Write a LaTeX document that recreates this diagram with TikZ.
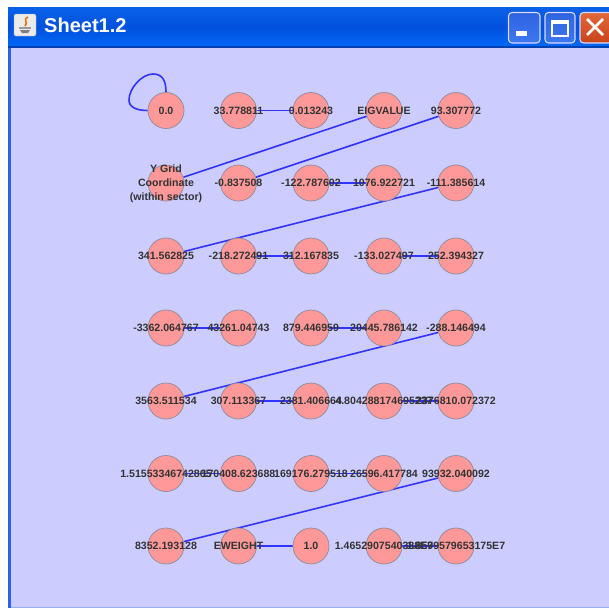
\documentclass[tikz,border=0pt]{standalone}
\usepackage{fontspec}
\setmainfont{Liberation Sans}
\usetikzlibrary{calc}
\definecolor{clientbg}{HTML}{CCCCFF}
\definecolor{vertexfill}{HTML}{FF9999}
\definecolor{vertexline}{HTML}{8F8A9A}
\definecolor{edgeblue}{HTML}{3333FF}
\definecolor{framemid}{HTML}{0050DC}
\definecolor{frametop}{HTML}{0A62EA}
\definecolor{framelow}{HTML}{0068F6}
\definecolor{frameedge}{HTML}{2A62E8}
\definecolor{btntop}{HTML}{2F62E2}
\definecolor{btnlow}{HTML}{3D78F0}
\definecolor{closetop}{HTML}{E2683A}
\definecolor{closelow}{HTML}{C8441A}
\pgfdeclarelayer{canvas}
\pgfdeclarelayer{edges}
\pgfsetlayers{canvas,edges,main}
\tikzset{
  vertex/.style={circle,draw=vertexline,line width=.7pt,fill=vertexfill,minimum size=36pt,inner sep=0pt},
  vtext/.style={font=\fontsize{10.6}{14}\bfseries\selectfont,text=black!80,align=center,inner sep=0pt},
  conn/.style={draw=edgeblue,line width=1.6pt},
  winbtn/.style={rounded corners=3.5pt,draw=white!85!blue,line width=1.1pt},
}
\begin{document}
\begin{tikzpicture}[x=1pt,y=-1pt]
\useasboundingbox (0,0) rectangle (609,608);
\begin{pgfonlayer}{canvas}
\fill[white] (0,0) rectangle (609,608);
\fill[frameedge] (8,40) rectangle (609,608);
\fill[clientbg] (11,48) rectangle (609,606.5);
\fill[white!50!frameedge] (11,606.5) rectangle (609,608);
\fill[top color=frametop,bottom color=framemid] (8,7) rectangle (609,27);
\fill[top color=framemid,bottom color=framelow] (8,27) rectangle (609,46);
\fill[black!20!framemid] (8,46) rectangle (609,48);
\end{pgfonlayer}
% title bar
\node[inner sep=0pt,anchor=west,text=white,font=\fontsize{20}{24}\bfseries\selectfont] (title) at (44,25.5) {Sheet1.2};
\fill[black!8,draw=black!30,rounded corners=2pt] (14,14) rectangle (36,36);
\draw[orange!90!black,line width=1.6pt] (28,17) .. controls (22,20) and (29,22) .. (25,26);
\fill[black!40] (19,27) rectangle (31,28.5);
\fill[black!50] (20,30) -- (30,30) -- (28,33) -- (22,33) -- cycle;
\shade[winbtn,top color=btntop,bottom color=btnlow] (508.5,12.5) rectangle (540,43);
\fill[white] (516,31) rectangle (527,35.5);
\shade[winbtn,top color=btntop,bottom color=btnlow] (545,12.5) rectangle (575,43);
\draw[white,line width=1.3pt] (552,21) rectangle (568,36);
\fill[white] (552,20) rectangle (568,23.5);
\shade[winbtn,top color=closetop,bottom color=closelow] (580,12.5) rectangle (612,43);
\draw[white,line width=2.8pt] (587,19) -- (603,35) (603,19) -- (587,35);
% vertices
\foreach \nm/\px/\py in {
 a1/166/110.5,a2/238.5/110.5,a3/311/110.5,a4/384/110.5,a5/456/110.5,
 b1/166/183,b2/238.5/183,b3/311/183,b4/384/183,b5/456/183,
 c1/166/256,c2/238.5/256,c3/311/256,c4/384/256,c5/456/256,
 d1/166/328,d2/238.5/328,d3/311/328,d4/384/328,d5/456/328,
 e1/166/401,e2/238.5/401,e3/311/401,e4/384/401,e5/456/401,
 f1/166/473.5,f2/238.5/473.5,f3/311/473.5,f4/384/473.5,f5/456/473.5,
 g1/166/546,g2/238.5/546,g3/311/546,g4/384/546,g5/456/546}
 {\node[vertex] (\nm) at (\px,\py) {};}
% connectors
\begin{pgfonlayer}{edges}
\draw[conn] (a1.north) .. controls (166,80) and (162,74) .. (153,74) .. controls (142,74) and (129,88) .. (129,100) .. controls (129,107) and (136,110.5) .. (a1.west);
\draw[conn] (a2) -- (a3);
\draw[conn] (a4) -- (b1);
\draw[conn] (a5) -- (b2);
\draw[conn] (b3) -- (b4);
\draw[conn] (b5) -- (c1);
\draw[conn] (c2) -- (c3);
\draw[conn] (c4) -- (c5);
\draw[conn] (d1) -- (d2);
\draw[conn] (d3) -- (d4);
\draw[conn] (d5) -- (e1);
\draw[conn] (e2) -- (e3);
\draw[conn] (e4) -- (e5);
\draw[conn] (f1) -- (f2);
\draw[conn] (f3) -- (f4);
\draw[conn] (f5) -- (g1);
\draw[conn] (g2) -- (g3);
\draw[conn] (g4) -- (g5);
\end{pgfonlayer}
% labels
\foreach \nm/\tx in {
 a1/0.0,a2/33.778811,a3/0.013243,a4/EIGVALUE,a5/93.307772,
 b2/-0.837508,b3/-122.787602,b4/1076.922721,b5/-111.385614,
 c1/341.562825,c2/-218.272491,c3/312.167835,c4/-133.027497,c5/252.394327,
 d1/-3362.064767,d2/43261.04743,d3/879.446959,d4/20445.786142,d5/-288.146494,
 e1/3563.511534,e2/307.113367,e3/2381.406664,e4/4.804288174695237,e5/2376810.072372,
 f1/1.51553346742865,f2/170408.623688,f3/169176.279518,f4/26596.417784,f5/93932.040092,
 g1/8352.193128,g2/EWEIGHT,g3/1.0,g4/1.4652907540388E9,g5/1.8579579653175E7}
 {\node[vtext] (t\nm) at (\nm) {\tx};}
\node[vtext] (tb1) at ($(b1)+(0,1)$) {Y Grid\\Coordinate\\(within sector)};
\end{tikzpicture}
\end{document}
